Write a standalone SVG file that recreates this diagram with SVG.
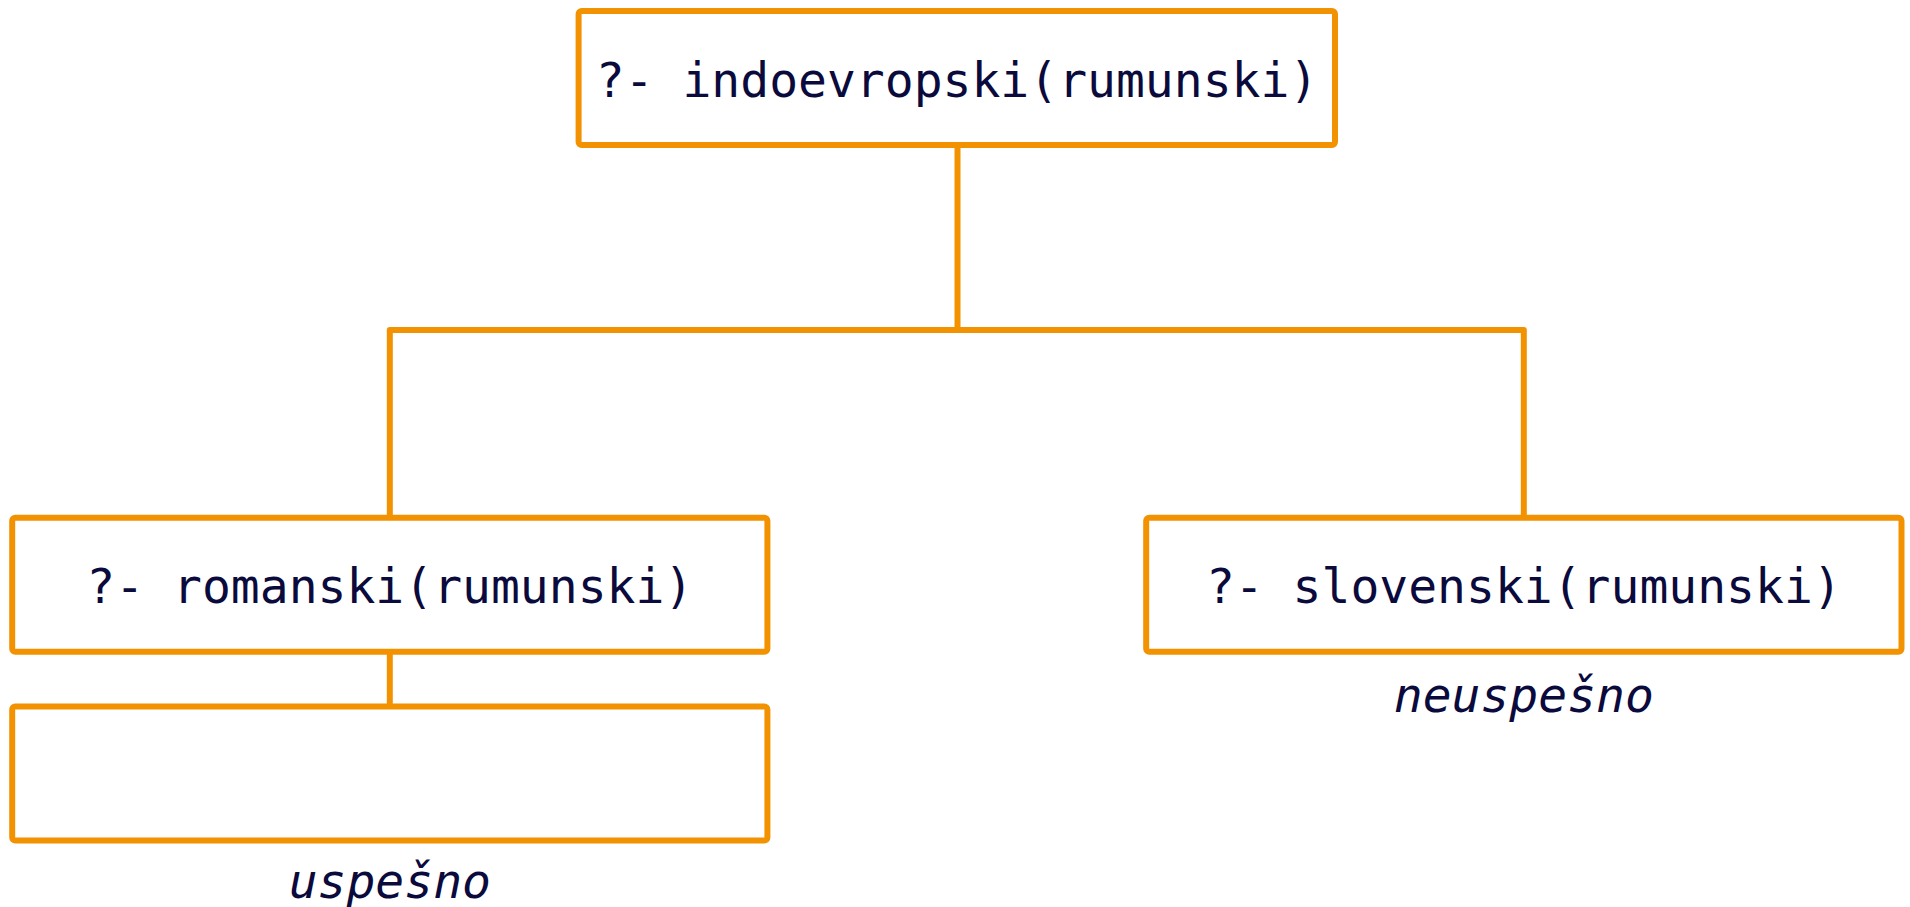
<svg xmlns="http://www.w3.org/2000/svg" width="1910" height="907" viewBox="0 0 1910 907">
<style>
.box{fill:#ffffff;stroke:#f39200;stroke-width:6;stroke-linejoin:round}
.conn{fill:none;stroke:#f39200;stroke-width:6;stroke-linejoin:round}
.t{font-family:"DejaVu Sans Mono",monospace;font-size:48px;fill:#0a0a3c;text-anchor:middle}
.it{font-style:italic}
</style>
<rect width="1910" height="907" fill="#ffffff"/>
<g id="connectors">
<path class="conn" d="M957.5 145 V330 M389.8 517.7 V330 H1523.8 V517.7"/>
<path class="conn" d="M389.8 651.7 V706.5"/>
</g>
<g id="node-top">
<rect class="box" x="578.6" y="11" width="756.4" height="134" rx="3"/>
<text class="t" x="957" y="97">?- indoevropski(rumunski)</text>
</g>
<g id="node-romanski">
<rect class="box" x="12.2" y="517.7" width="755.2" height="134" rx="3"/>
<text class="t" x="389.8" y="603">?- romanski(rumunski)</text>
</g>
<g id="node-slovenski">
<rect class="box" x="1146.2" y="517.7" width="755.3" height="134" rx="3"/>
<text class="t" x="1523.8" y="603">?- slovenski(rumunski)</text>
<text class="t it" x="1523.8" y="712">neuspešno</text>
</g>
<g id="node-empty">
<rect class="box" x="12.2" y="706.5" width="755.2" height="134" rx="3"/>
<text class="t it" x="389.8" y="898">uspešno</text>
</g>
</svg>
